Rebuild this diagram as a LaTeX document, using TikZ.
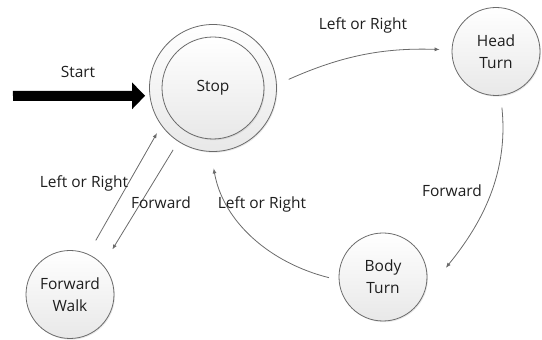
\documentclass[tikz,border=0pt]{standalone}
\usepackage{fontspec}
\setmainfont{Open Sans}
\usetikzlibrary{arrows.meta,shadows}

\definecolor{edgegray}{HTML}{6A6A6A}
\definecolor{textgray}{HTML}{1E1E1E}

\tikzset{
  state/.style={circle, draw=edgegray, line width=0.8pt,
    top color=white, bottom color=black!9,
    drop shadow={opacity=0.18, shadow xshift=1pt, shadow yshift=-1.2pt},
    minimum size=88pt, inner sep=0pt, align=center,
    font=\fontsize{15.5}{22}\selectfont, text=textgray},
  trans/.style={draw=edgegray, line width=0.8pt,
    -{Latex[length=5pt,width=4pt]}},
  lbl/.style={font=\fontsize{15.5}{18}\selectfont, text=textgray, inner sep=0pt},
}

\begin{document}
\begin{tikzpicture}[x=1pt,y=1pt]
  \useasboundingbox (0,0) rectangle (542,340);

  % states
  \node[state, minimum size=127pt] (stop) at (213,252) {};
  \node[state, minimum size=102pt, drop shadow={opacity=0}] (stopin) at (213,252) {Stop};
  \node[state] (head) at (496,288.5) {Head\\Turn};
  \node[state] (body) at (383,63) {Body\\Turn};
  \node[state] (walk) at (70,45.5) {Forward\\Walk};

  % initial arrow
  \coordinate (init) at (13,244);
  \draw[line width=10pt, black, shorten >=4.5pt,
        -{Triangle[width=26pt,length=13pt]}] (init) -- (stop.187);
  \node[lbl] (startlbl) at (78,268) {Start};

  % transitions
  \draw[trans, shorten <=13pt, shorten >=12pt]
    (stop.3) to[out=24,in=178] (head);
  \node[lbl] (l1) at (363,315) {Left or Right};

  \draw[trans, shorten <=12pt, shorten >=36pt]
    (head) to[out=-84,in=51] (body.-25);
  \node[lbl] (l2) at (452,149) {Forward};

  \draw[trans, shorten <=10pt, shorten >=16.8pt]
    (body.184) to[out=166,in=-80] (stop.268);
  \node[lbl] (l3) at (262,136) {Left or Right};

  \draw[trans, shorten <=15.6pt, shorten >=8.7pt]
    (walk.66) -- (stop.216.6);
  \node[lbl] (l4) at (84,157) {Left or Right};

  \draw[trans, shorten <=9.7pt, shorten >=18pt]
    (stop.237.8) -- (walk.42.7);
  \node[lbl] (l5) at (161,137) {Forward};
\end{tikzpicture}
\end{document}
